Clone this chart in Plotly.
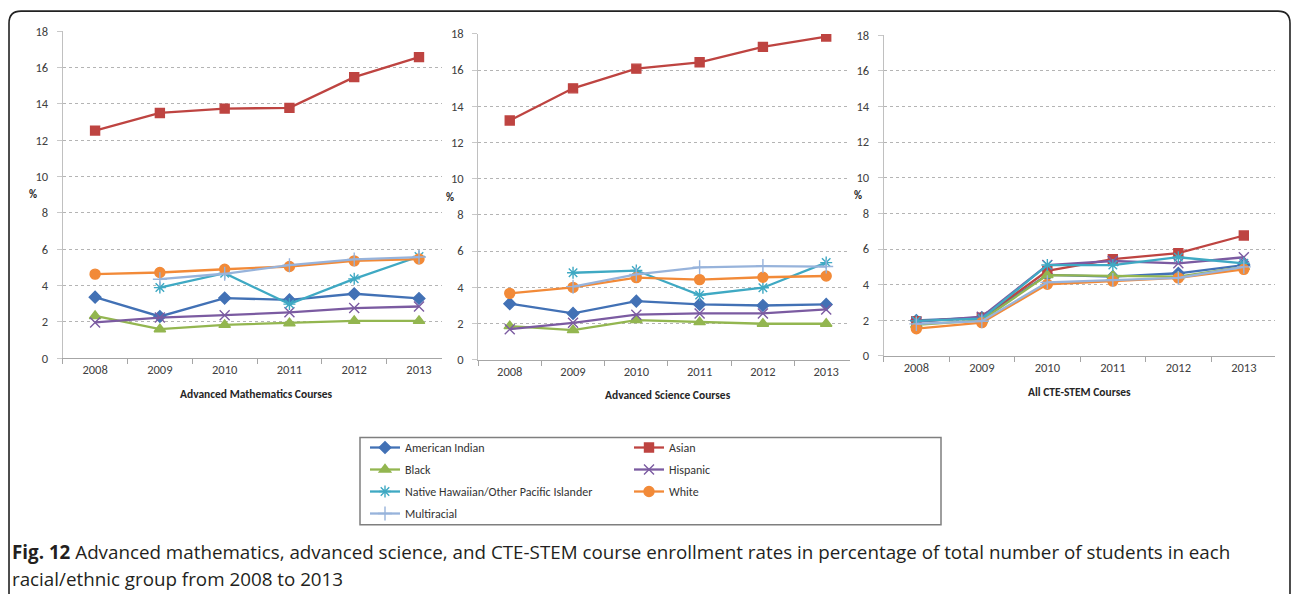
import plotly.graph_objects as go

W, H = 1292, 594

years = ["2008", "2009", "2010", "2011", "2012", "2013"]
groups = ["American Indian", "Asian", "Black", "Hispanic",
          "Native Hawaiian/Other Pacific Islander", "White", "Multiracial"]

# Advanced Mathematics Courses (%)
math_american_indian = [3.36, 2.30, 3.31, 3.21, 3.55, 3.29]
math_asian = [12.53, 13.50, 13.74, 13.78, 15.47, 16.57]
math_black = [2.33, 1.60, 1.84, 1.93, 2.06, 2.06]
math_hispanic = [1.97, 2.24, 2.37, 2.53, 2.76, 2.85]
math_nhopi = [None, 3.89, 4.68, 2.98, 4.37, 5.60]
math_white = [4.63, 4.72, 4.90, 5.05, 5.36, 5.46]
math_multiracial = [None, 4.35, 4.65, 5.12, 5.44, 5.57]

# Advanced Science Courses (%)
sci_american_indian = [3.09, 2.55, 3.23, 3.05, 2.99, 3.05]
sci_asian = [13.21, 14.99, 16.08, 16.43, 17.28, 17.85]
sci_black = [1.85, 1.63, 2.18, 2.07, 1.98, 1.98]
sci_hispanic = [1.68, 2.03, 2.48, 2.55, 2.55, 2.77]
sci_nhopi = [None, 4.80, 4.92, 3.57, 3.97, 5.36]
sci_white = [3.66, 3.99, 4.53, 4.42, 4.55, 4.62]
sci_multiracial = [None, 4.03, 4.71, 5.10, 5.17, 5.14]

# All CTE-STEM Courses (%)
cte_american_indian = [1.99, 2.15, 4.55, 4.45, 4.64, 5.10]
cte_asian = [1.95, 2.14, 4.77, 5.43, 5.77, 6.76]
cte_black = [1.75, 2.00, 4.54, 4.50, 4.45, 5.00]
cte_hispanic = [1.91, 2.20, 5.10, 5.33, 5.20, 5.54]
cte_nhopi = [1.97, 2.10, 5.10, 5.10, 5.54, 5.20]
cte_white = [1.53, 1.87, 4.02, 4.20, 4.38, 4.86]
cte_multiracial = [1.80, 1.95, 4.13, 4.26, 4.38, 5.00]

panel_titles = ["Advanced Mathematics Courses", "Advanced Science Courses", "All CTE-STEM Courses"]
y_ticks = [0, 2, 4, 6, 8, 10, 12, 14, 16, 18]

panels = [
    [math_american_indian, math_asian, math_black, math_hispanic, math_nhopi, math_white, math_multiracial],
    [sci_american_indian, sci_asian, sci_black, sci_hispanic, sci_nhopi, sci_white, sci_multiracial],
    [cte_american_indian, cte_asian, cte_black, cte_hispanic, cte_nhopi, cte_white, cte_multiracial],
]

colors = ["#4271B5", "#BE4441", "#93B650", "#7B5BA1", "#3FA9C3", "#F28A38", "#97B3DB"]
symbols = ["diamond", "square", "triangle-up", "x-thin-open", "asterisk-open", "circle", "cross-thin-open"]
msizes = [9, 9, 10, 10, 10, 10, 10]
legend_of = ["legend", "legend2", "legend", "legend2", "legend", "legend2", "legend"]

# observed vertical placement of the rendered page (target = 0.9715 * spec + 8.9)
VS, VO = 0.9715, 8.9


def px(x):
    return x / W


def py(y):
    return 1 - ((y - VO) / VS) / H


# pixel geometry of each panel: (left, right, top(18), bottom(0), x range right end)
geo = [
    (62.7, 442.0, 32.0, 358.0, 5.355),
    (478.1, 850.0, 34.7, 359.3, 5.376),
    (883.6, 1275.0, 36.0, 355.7, 5.476),
]

fig = go.Figure()
font_main = "Carlito, Calibri, Liberation Sans, Arial, sans-serif"

for p, series in enumerate(panels):
    xa = "x" if p == 0 else f"x{p+1}"
    ya = "y" if p == 0 else f"y{p+1}"
    for i, vals in enumerate(series):
        fig.add_trace(go.Scatter(
            x=years, y=vals, name=groups[i], mode="lines+markers",
            xaxis=xa, yaxis=ya,
            line=dict(color=colors[i], width=2.3),
            marker=dict(symbol=symbols[i], size=msizes[i], color=colors[i],
                        line=dict(color=colors[i], width=1.4)),
            legendgroup=groups[i], showlegend=(p == 0), legend=legend_of[i],
            connectgaps=False,
        ))

layout = dict(
    width=W, height=H, autosize=False, margin=dict(l=0, r=0, t=0, b=0),
    paper_bgcolor="white", plot_bgcolor="white",
    font=dict(family=font_main, size=12, color="#404040"),
    showlegend=True,
)

for p, (l, r, t, b, xr) in enumerate(geo):
    sx = "" if p == 0 else str(p + 1)
    layout["xaxis" + sx] = dict(
        domain=[px(l), px(r)], anchor="y" + sx, type="category",
        range=[-0.5, xr], showline=True, linecolor="#A6A6A6", linewidth=1,
        ticks="outside", tickson="boundaries", ticklen=5, tickcolor="#A6A6A6",
        showgrid=False, zeroline=False, tickfont=dict(size=12.5, color="#404040"),
        fixedrange=True,
    )
    layout["yaxis" + sx] = dict(
        domain=[py(b), py(t)], anchor="x" + sx, range=[0, 18],
        tickvals=y_ticks, showline=True, linecolor="#C0C0C0", linewidth=1,
        ticks="outside", ticklen=5, tickcolor="#C8C8C8",
        showgrid=True, gridcolor="#B4B4B4", griddash="dot", gridwidth=1,
        zeroline=False, tickfont=dict(size=12.5, color="#404040"),
        ticklabelstandoff=6, fixedrange=True,
    )

layout["legend"] = dict(
    x=px(365), y=py(432.5), xanchor="left", yanchor="top", orientation="v",
    font=dict(size=12, color="#333333", family=font_main),
    bgcolor="rgba(0,0,0,0)", borderwidth=0, tracegroupgap=3, itemwidth=30,
)
layout["legend2"] = dict(
    x=px(629), y=py(432.5), xanchor="left", yanchor="top", orientation="v",
    font=dict(size=12, color="#333333", family=font_main),
    bgcolor="rgba(0,0,0,0)", borderwidth=0, tracegroupgap=3, itemwidth=30,
)

annotations = []
pct_pos = [(33, 195), (450, 197.7), (858, 195.7)]
for (x, y) in pct_pos:
    annotations.append(dict(x=px(x), y=py(y), xref="paper", yref="paper", text="<b>%</b>",
                            showarrow=False, xanchor="center", yanchor="middle",
                            font=dict(size=11, color="#262626", family=font_main)))
title_pos = [(256, 394), (667.7, 395), (1079, 392)]
for (x, y), t in zip(title_pos, panel_titles):
    annotations.append(dict(x=px(x), y=py(y), xref="paper", yref="paper", text=f"<b>{t}</b>",
                            showarrow=False, xanchor="center", yanchor="middle",
                            font=dict(size=11.5, color="#262626", family=font_main)))

cap_font = "Open Sans, sans-serif"
annotations.append(dict(
    x=px(10), y=py(551), xref="paper", yref="paper", xanchor="left", yanchor="middle",
    showarrow=False,
    text="<b>Fig. 12</b> Advanced mathematics, advanced science, and CTE-STEM course enrollment rates in percentage of total number of students in each",
    font=dict(size=18.8, color="#231F20", family=cap_font)))
annotations.append(dict(
    x=px(10), y=py(578), xref="paper", yref="paper", xanchor="left", yanchor="middle",
    showarrow=False, text="racial/ethnic group from 2008 to 2013",
    font=dict(size=18.8, color="#231F20", family=cap_font)))
layout["annotations"] = annotations


def pp(x, y):
    return f"{px(x):.5f},{py(y):.5f}"


frame = (f"M {pp(9, 640)} L {pp(9, 24)} Q {pp(9, 12)} {pp(21, 12)} "
         f"L {pp(1278, 12)} Q {pp(1290, 12)} {pp(1290, 24)} L {pp(1290, 640)}")
layout["shapes"] = [
    dict(type="path", path=frame, xref="paper", yref="paper",
         line=dict(color="#222222", width=1.6)),
    dict(type="rect", x0=px(360), x1=px(941), y0=py(437), y1=py(524), xref="paper", yref="paper",
         line=dict(color="#7F7F7F", width=1.5)),
]

fig.update_layout(**layout)
fig.write_html("out.html",
               config={"responsive": False, "displayModeBar": False},
               post_script="document.body.style.margin='0';document.body.style.overflow='hidden';")
